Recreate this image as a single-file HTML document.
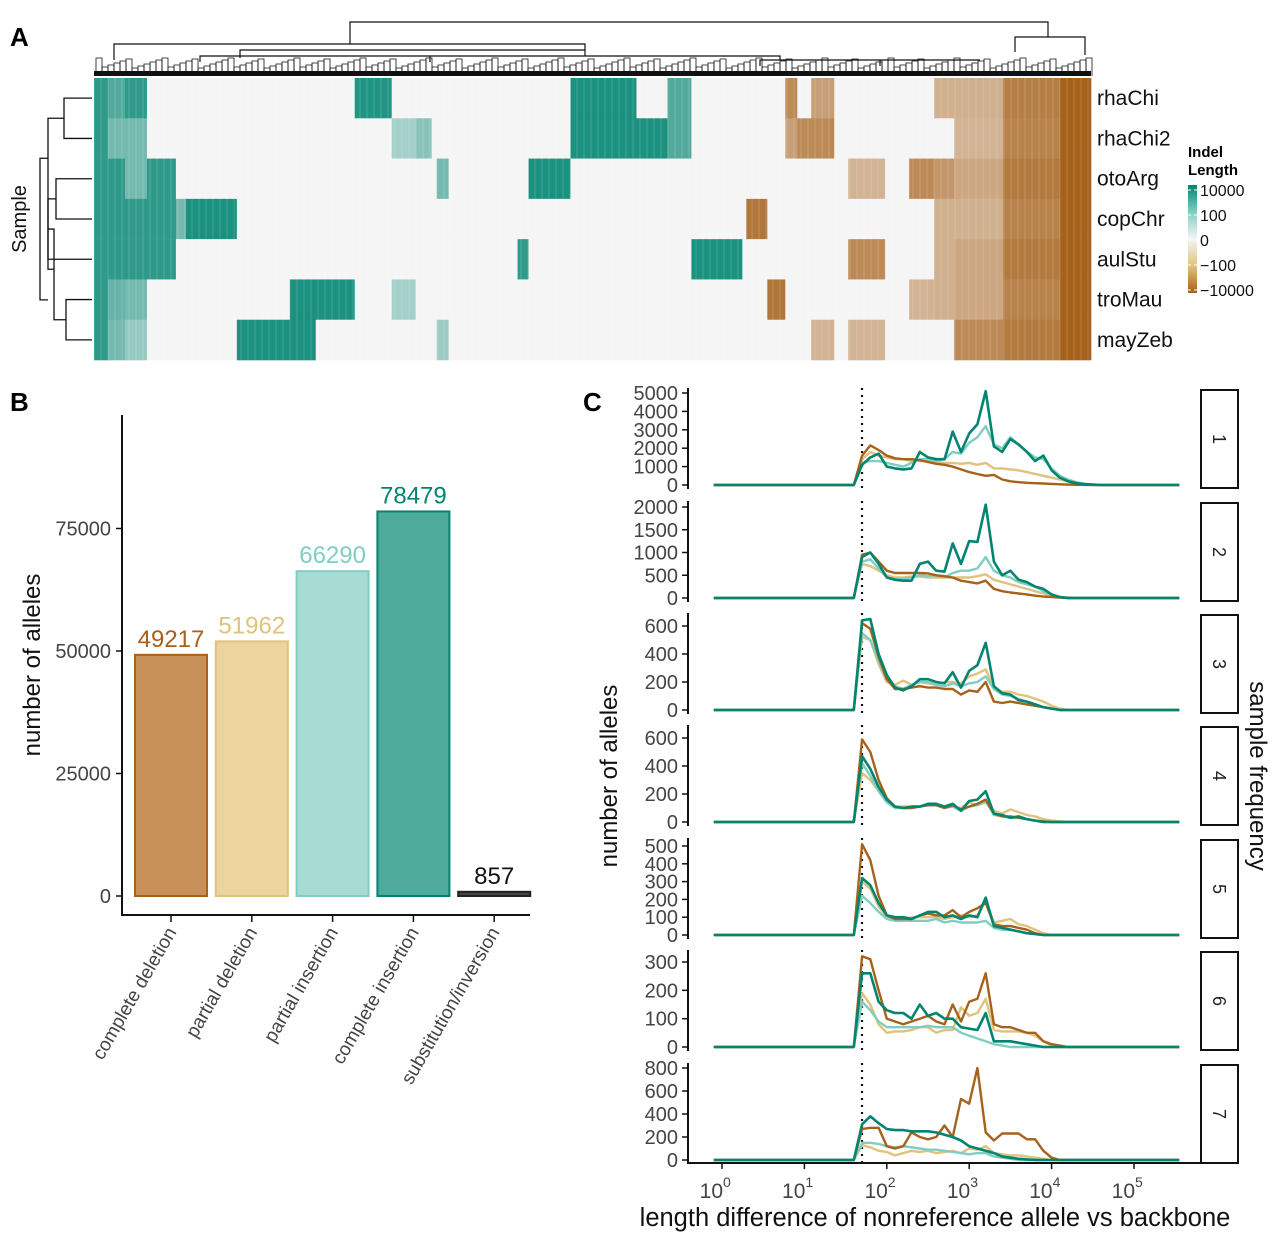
<!DOCTYPE html>
<html><head><meta charset="utf-8">
<style>
html,body{margin:0;padding:0;background:#fff;}
svg{display:block;font-family:"Liberation Sans",sans-serif;}
</style></head>
<body>
<svg id="fig" width="1280" height="1241" viewBox="0 0 1280 1241" xmlns="http://www.w3.org/2000/svg">
<text x="10" y="46" font-size="26" font-weight="bold">A</text>
<text x="10" y="411" font-size="26" font-weight="bold">B</text>
<text x="583" y="411" font-size="26" font-weight="bold">C</text>
<g id="panelA"></g>
<g id="panelB"></g>
<g id="panelC"></g>
</svg>
<script>
// ---------- Panel A data ----------
const sampleNames = ["rhaChi","rhaChi2","otoArg","copChr","aulStu","troMau","mayZeb"];
// each cluster: column count, then indel intensity per sample (+ insertion, - deletion)
const clusterWidths = [14,17,22,29,10,51,53,26,39,37,24,16,5,12,69,11,42,66,31,24,51,4,21,18,12,14,23,14,37,24,25,20,49,57,31];
const clusterValues = [
 [2,2,2,2,2,2,2],
 [1.5,1,2,2,2,1.2,1],
 [2,1,1,2,2,1,0.5],
 [0,0,2,2,2,0,0],
 [0,0,0,1,0,0,0],
 [0,0,0,2.3,0,0,0],
 [0,0,0,0,0,0,2.3],
 [0,0,0,0,0,2.3,2.3],
 [0,0,0,0,0,2.3,0],
 [2.2,0,0,0,0,0,0],
 [0,0.3,0,0,0,0.3,0],
 [0,0.7,0,0,0,0,0],
 [0,0,0,0,0,0,0],
 [0,0,1,0,0,0,0.4],
 [0,0,0,0,0,0,0],
 [0,0,0,0,2,0,0],
 [0,0,2.3,0,0,0,0],
 [2.3,2.3,0,0,0,0,0],
 [0,2.3,0,0,0,0,0],
 [1.5,1.5,0,0,0,0,0],
 [0,0,0,0,2.3,0,0],
 [0,0,0,0,0,0,0],
 [0,0,0,-2,0,0,0],
 [0,0,0,0,0,-2,0],
 [-1.5,-1,0,0,0,0,0],
 [0,-1.5,0,0,0,0,0],
 [-1,-1.5,0,0,0,0,-0.5],
 [0,0,0,0,0,0,0],
 [0,0,-0.5,0,-1.5,0,-0.5],
 [0,0,0,0,0,0,0],
 [0,0,-1.5,0,0,-0.5,0],
 [-0.6,0,-1.2,-0.6,-0.6,-0.6,0],
 [-0.6,-0.5,-0.8,-0.6,-0.8,-0.8,-1.5],
 [-1.8,-1.7,-1.9,-1.7,-1.9,-1.7,-1.9],
 [-2.5,-2.5,-2.5,-2.5,-2.5,-2.5,-2.5]
];
const legendLabels = ["10000","100","0","\u2212100","\u221210000"];

// ---------- Panel B data ----------
const barCategories = ["complete deletion","partial deletion","partial insertion","complete insertion","substitution/inversion"];
const barValues = [49217,51962,66290,78479,857];
const barTicks = [0,25000,50000,75000];

// ---------- Panel C data ----------
const logLengths = [1.6,1.7,1.8,1.9,2.0,2.1,2.2,2.3,2.4,2.5,2.6,2.7,2.8,2.9,3.0,3.1,3.2,3.3,3.4,3.5,3.6,3.7,3.8,3.9,4.0,4.1,4.2,4.3,4.4,4.5,4.6];
const seriesNames = ["complete deletion","partial deletion","partial insertion","complete insertion"];
const panelTickMax = [5000,2000,600,600,500,300,800];
const panelTickStep = [1000,500,200,200,100,100,200];
const xTickExps = [0,1,2,3,4,5];
const cdel = [
 [0,1600,2150,1900,1600,1450,1400,1400,1350,1250,1150,1100,1000,850,700,600,500,550,300,200,150,120,100,80,60,40,20,10,5,0,0],
 [0,950,1000,800,600,550,550,550,550,540,500,480,450,380,350,320,380,200,150,120,100,80,50,30,20,10,0,0,0,0,0],
 [0,620,580,380,220,150,150,160,170,160,160,150,150,110,140,130,200,60,50,60,50,40,30,20,10,0,0,0,0,0,0],
 [0,590,500,300,170,110,100,100,110,120,120,100,120,90,110,130,160,60,40,40,30,20,10,5,0,0,0,0,0,0,0],
 [0,510,420,220,110,90,90,90,110,120,110,110,140,100,130,150,180,60,50,50,40,30,10,0,0,0,0,0,0,0,0],
 [0,320,310,200,100,90,80,90,100,110,90,80,150,90,160,170,260,80,70,70,60,50,50,20,10,5,0,0,0,0,0],
 [0,270,280,280,120,100,120,240,200,180,200,300,200,530,490,800,240,170,230,230,230,180,180,80,20,0,0,0,0,0,0]
];
const pdel = [
 [0,1400,1800,1600,1500,1400,1400,1300,1300,1300,1250,1200,1200,1150,1200,1100,1200,900,900,850,800,700,600,500,400,300,200,100,50,20,0],
 [0,750,700,600,500,450,450,470,470,450,450,450,450,450,450,480,520,400,350,300,250,200,150,100,50,20,10,0,0,0,0],
 [0,520,500,330,200,180,210,180,200,190,180,200,200,190,240,260,290,160,130,130,110,100,80,60,30,10,0,0,0,0,0],
 [0,350,300,220,150,110,110,110,110,120,120,110,110,100,140,120,140,80,60,90,70,50,40,20,10,5,0,0,0,0,0],
 [0,300,260,160,100,90,90,100,100,100,100,90,100,110,100,110,190,70,80,90,60,50,30,10,0,0,0,0,0,0,0],
 [0,190,150,80,50,55,55,60,70,70,50,60,60,140,110,120,170,60,55,55,55,50,40,20,5,0,0,0,0,0,0],
 [0,130,110,80,70,40,60,80,70,80,60,70,80,60,100,90,120,60,50,40,40,30,20,10,0,0,0,0,0,0,0]
];
const pins = [
 [0,1200,1300,1300,1200,1100,1000,1200,1400,1400,1300,1400,1800,1700,2300,2600,3200,2200,2000,2600,2200,1800,1500,1400,900,500,300,150,60,20,0],
 [0,800,850,650,450,420,420,450,500,480,500,450,550,600,600,650,900,600,500,450,350,300,250,150,60,20,0,0,0,0,0],
 [0,550,500,350,220,170,150,180,200,200,180,170,190,170,190,200,240,150,110,100,80,60,40,20,10,0,0,0,0,0,0],
 [0,420,330,220,140,100,100,100,110,120,120,100,110,80,110,120,150,50,40,30,30,20,10,0,0,0,0,0,0,0,0],
 [0,220,180,130,90,80,80,80,80,80,90,70,80,70,70,70,80,40,30,30,20,10,5,0,0,0,0,0,0,0,0],
 [0,160,130,90,70,70,70,70,70,75,70,70,70,50,40,30,20,10,5,0,0,0,0,0,0,0,0,0,0,0,0],
 [0,150,150,140,120,110,120,110,100,90,90,80,70,60,50,60,60,30,20,10,0,0,0,0,0,0,0,0,0,0,0]
];
const cins = [
 [0,1100,1500,1700,1000,900,850,900,1800,1500,1400,1400,2900,1800,2800,3300,5100,2100,1800,2500,2200,1800,1300,1600,800,400,200,100,50,20,0],
 [0,900,1000,750,450,400,380,380,750,800,600,580,1200,750,1250,1230,2050,800,500,600,400,350,250,200,80,20,0,0,0,0,0],
 [0,640,650,400,250,160,140,170,220,220,200,190,270,160,280,320,480,170,120,110,70,60,40,20,10,0,0,0,0,0,0],
 [0,470,380,250,160,110,100,110,110,130,130,110,130,80,150,160,220,60,50,30,40,20,10,0,0,0,0,0,0,0,0],
 [0,320,280,180,110,100,100,90,110,130,130,100,110,90,110,100,210,50,40,30,20,10,5,0,0,0,0,0,0,0,0],
 [0,260,260,160,130,120,120,100,150,110,120,100,100,70,65,60,120,20,20,20,15,10,5,0,0,0,0,0,0,0,0],
 [0,310,380,320,270,260,260,250,250,250,240,220,200,170,120,100,80,60,30,20,10,5,0,0,0,0,0,0,0,0,0]
];

const NS="http://www.w3.org/2000/svg";
function mk(tag, attrs, parent, txt){const e=document.createElementNS(NS,tag);for(const k in attrs)e.setAttribute(k,attrs[k]);if(txt!==undefined)e.textContent=txt;parent.appendChild(e);return e;}
function mix(c1,c2,t){const a=[1,3,5].map(i=>parseInt(c1.substr(i,2),16)),b=[1,3,5].map(i=>parseInt(c2.substr(i,2),16));return "rgb("+a.map((v,i)=>Math.round(v+(b[i]-v)*t)).join(",")+")";}
function heatColor(v){if(v===0)return "#f5f5f5";if(v>0)return mix("#f5f5f5","#018571",Math.min(1,0.25+v/2.5*0.7));return mix("#f5f5f5","#a6611a",Math.min(1,0.3+(-v)/2.5*0.7));}

// ---------- Draw Panel A ----------
(function(){
 const g=document.getElementById('panelA');
 const x0=94,x1=1091,y0=78,y1=360;
 const total=clusterWidths.reduce((a,b)=>a+b,0);
 const xs=d=>x0+d/total*(x1-x0);
 const rowH=(y1-y0)/sampleNames.length;
 let cum=0;
 clusterWidths.forEach((w,ci)=>{
  clusterValues[ci].forEach((v,ri)=>{
   const r=mk('rect',{x:xs(cum),y:y0+ri*rowH,width:xs(cum+w)-xs(cum)+0.3,height:rowH+0.3,fill:heatColor(v)},g);
   
   
  });
  cum+=w;
 });
 for(let x=x0;x<x1;x+=7){mk('line',{x1:x,x2:x,y1:y0,y2:y1,stroke:'#ffffff','stroke-opacity':0.18,'stroke-width':1},g);}
 sampleNames.forEach((n,i)=>{const t=mk('text',{x:1097,y:y0+i*rowH+rowH/2+7,'font-size':21,fill:'#111'},g,n);
  });
 const st=mk('text',{x:0,y:0,'font-size':20,transform:'translate(26,219) rotate(-90)','text-anchor':'middle',fill:'#111'},g,'Sample');
 
 const dg=mk('g',{stroke:'#111','stroke-width':1.3,fill:'none'},g);
 
 const cy=i=>y0+i*rowH+rowH/2;
 const paths=[
  `M92 ${cy(0)}H64V${cy(1)}H92`,
  `M92 ${cy(2)}H56V${cy(3)}H92`,
  `M92 ${cy(4)}H48V${(cy(2)+cy(3))/2}H56`,
  `M92 ${cy(5)}H66V${cy(6)}H92`,
  `M48 ${(cy(2)+cy(3)+cy(4)*2)/4}H54V${(cy(5)+cy(6))/2}H66`,
  `M64 ${(cy(0)+cy(1))/2}H48V${(cy(3)+cy(5))/2+10}H54`,
  `M48 ${(cy(0)+cy(1))/2+40}H40V${cy(6)-40}H48`
 ];
 paths.forEach(d=>mk('path',{d:d},dg));
 const cg=mk('g',{stroke:'#111','stroke-width':1.2,fill:'none'},g);
 
 ['M350 44V22H1048V37','M114 60V44H585V50','M1015 52V37H1085V55','M240 58V50H585V56','M200 62V56H430','M430 62V56H780V60','M760 66V60H880','M880 66V60H980'].forEach(d=>mk('path',{d:d},cg));
 for(let x=96;x<1090;x+=6){const h=4+((x*37)%11);mk('path',{d:`M${x} 76V${72-h}H${x+6}V76`,'stroke-width':0.8},cg);}
 mk('rect',{x:94,y:71,width:997,height:5,fill:'#111',stroke:'none'},cg);
 const lg=mk('g',{},g);
 mk('text',{x:1188,y:157,'font-size':15,'font-weight':'bold'},lg,'Indel');
 mk('text',{x:1188,y:175,'font-size':15,'font-weight':'bold'},lg,'Length');
 const defs=mk('defs',{},lg);
 const gr=mk('linearGradient',{id:'lgc',x1:0,y1:0,x2:0,y2:1},defs);
 [['0','#018571'],['0.25','#80cdc1'],['0.5','#f5f5f5'],['0.75','#dfc27d'],['1','#a6611a']].forEach(s=>mk('stop',{offset:s[0],'stop-color':s[1]},gr));
 mk('rect',{x:1188,y:185,width:9,height:108,fill:'url(#lgc)'},lg);
 legendLabels.forEach((l,i)=>{const y=190+i*25;mk('line',{x1:1188,x2:1191,y1:y,y2:y,stroke:'#fff'},lg);mk('line',{x1:1194,x2:1197,y1:y,y2:y,stroke:'#fff'},lg);
  mk('text',{x:1200,y:y+6,'font-size':16,fill:'#111'},lg,l);});
})();

// ---------- Draw Panel B ----------
(function(){
 const g=document.getElementById('panelB');
 const y=v=>896-v*122.5/25000;
 const cols=[['#c8915a','#a6611a'],['#ebd49e','#dfc27d'],['#a8dcd3','#80cdc1'],['#4eaa9b','#018571'],['#444444','#222222']];
 const lblCol=['#a6611a','#dfc27d','#80cdc1','#018571','#111111'];
 const cx=i=>171+i*80.8;
 mk('line',{x1:122,x2:122,y1:415,y2:916,stroke:'#111','stroke-width':2},g);
 mk('line',{x1:121,x2:530,y1:915,y2:915,stroke:'#111','stroke-width':2},g);
 barTicks.forEach(t=>{mk('line',{x1:116,x2:122,y1:y(t),y2:y(t),stroke:'#111','stroke-width':1.5},g);
  const tl=mk('text',{x:111,y:y(t)+7,'font-size':20,fill:'#444','text-anchor':'end'},g,String(t));
  });
 const yt=mk('text',{x:0,y:0,'font-size':24,transform:'translate(40,665) rotate(-90)','text-anchor':'middle',fill:'#111'},g,'number of alleles');
 
 barValues.forEach((v,i)=>{
  const top=y(v);const h=Math.max(896-top,4);
  const r=mk('rect',{x:cx(i)-36,y:896-h,width:72,height:h,fill:cols[i][0],stroke:cols[i][1],'stroke-width':2},g);
  
  const t=mk('text',{x:cx(i),y:896-h-8,'font-size':24,fill:lblCol[i],'text-anchor':'middle'},g,String(v));
  
  mk('line',{x1:cx(i),x2:cx(i),y1:915,y2:922,stroke:'#111','stroke-width':1.5},g);
  const xl=mk('text',{x:0,y:0,'font-size':19,fill:'#444','text-anchor':'end',transform:`translate(${cx(i)+6},${932}) rotate(-60)`},g,barCategories[i]);
  
 });
})();

// ---------- Draw Panel C ----------
(function(){
 const g=document.getElementById('panelC');
 const xOf=l=>722+l*82.4;
 const zeroY=[485,598,710,822,935,1047,1160];
 const topY=[393,507,626,738,846,962,1068];
 const seriesData=[cdel,pdel,pins,cins];
 const colors=['#a6611a','#dfc27d','#80cdc1','#018571'];
 const widths=[2.4,2.4,2.4,2.6];
 const drawOrder=[1,2,0,3];
 for(let p=0;p<7;p++){
  const yOf=v=>zeroY[p]-v/panelTickMax[p]*(zeroY[p]-topY[p]);
  const pg=mk('g',{},g);
  mk('line',{x1:688,x2:688,y1:zeroY[p]-97,y2:zeroY[p]+4,stroke:'#111','stroke-width':2},pg);
  for(let t=0;t<=panelTickMax[p];t+=panelTickStep[p]){
   mk('line',{x1:682,x2:688,y1:yOf(t),y2:yOf(t),stroke:'#111','stroke-width':1.5},pg);
   const tl=mk('text',{x:678,y:yOf(t)+7,'font-size':20,fill:'#444','text-anchor':'end'},pg,String(t));
   
  }
  mk('line',{x1:xOf(Math.log10(50)),x2:xOf(Math.log10(50)),y1:zeroY[p]-97,y2:zeroY[p]+4,stroke:'#111','stroke-width':2.2,'stroke-dasharray':'2 5'},pg);
  drawOrder.forEach(s=>{
   const vals=seriesData[s][p];
   let pts=[[xOf(-0.1),yOf(0)]];
   logLengths.forEach((l,i)=>pts.push([xOf(l),yOf(vals[i]||0)]));
   pts.push([xOf(5.55),yOf(0)]);
   const pl=mk('polyline',{points:pts.map(q=>q[0].toFixed(1)+','+q[1].toFixed(1)).join(' '),fill:'none',stroke:colors[s],'stroke-width':widths[s],'stroke-linejoin':'round'},pg);
   
  });
  const sb=mk('rect',{x:1201,y:zeroY[p]-95,width:37,height:98,fill:'#fff',stroke:'#111','stroke-width':2},pg);
  
  mk('text',{x:0,y:0,'font-size':18,fill:'#222','text-anchor':'middle',transform:`translate(${1213},${zeroY[p]-46}) rotate(90)`},pg,String(p+1));
 }
 mk('line',{x1:687,x2:1205,y1:1163,y2:1163,stroke:'#111','stroke-width':2},g);
 xTickExps.forEach(e=>{
  mk('line',{x1:xOf(e),x2:xOf(e),y1:1163,y2:1169,stroke:'#111','stroke-width':1.5},g);
  const t=mk('text',{x:xOf(e)+1,y:1198,'font-size':21,fill:'#444','text-anchor':'end'},g,'10');
  
  mk('text',{x:xOf(e)+1,y:1187,'font-size':14,fill:'#444'},g,String(e));
 });
 const xt=mk('text',{x:935,y:1226,'font-size':25.5,fill:'#111','text-anchor':'middle'},g,'length difference of nonreference allele vs backbone');
 
 const yt=mk('text',{x:0,y:0,'font-size':24,fill:'#111','text-anchor':'middle',transform:'translate(617,776) rotate(-90)'},g,'number of alleles');
 
 const ft=mk('text',{x:0,y:0,'font-size':24,fill:'#111','text-anchor':'middle',transform:'translate(1250,776) rotate(90)'},g,'sample frequency');
 
})();
</script>
</body></html>
